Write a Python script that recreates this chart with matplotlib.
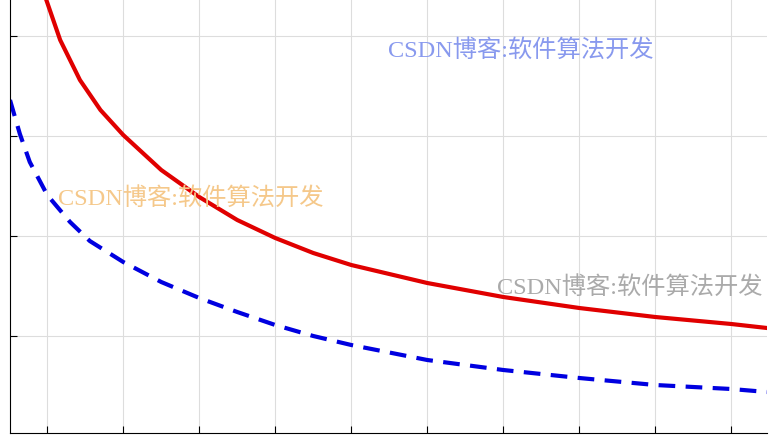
import matplotlib
matplotlib.use("Agg")
import matplotlib.pyplot as plt

x_red = [0.97, 1.17, 1.43, 1.70, 2, 2.5, 3, 3.5, 4, 4.5, 5, 6, 7, 8, 9, 10, 10.47]
y_red = [4.4, 3.96, 3.56, 3.26, 3.01, 2.66, 2.39, 2.16, 1.98, 1.83, 1.71, 1.53, 1.39, 1.28, 1.19, 1.12, 1.08]
x_blue = [0.51, 0.64, 0.77, 1, 1.3, 1.56, 2, 2.5, 3, 3.5, 4, 4.5, 5, 6, 7, 8, 9, 10, 10.47]
y_blue = [3.36, 3.02, 2.74, 2.41, 2.14, 1.95, 1.74, 1.54, 1.38, 1.24, 1.11, 1.0, 0.91, 0.76, 0.66, 0.58, 0.51, 0.47, 0.44]
xticks = list(range(1, 11))
yticks = [1, 2, 3, 4]
wm = "CSDN博客:软件算法开发"

fig = plt.figure(figsize=(7.84, 4.41), dpi=100)
ax = fig.add_axes([10/784, 8/441, 757/784, 433/441])
ax.plot(x_red, y_red, color="#e00000", lw=3)
ax.plot(x_blue, y_blue, color="#0000e0", lw=3, ls=(0, (4, 2.5)))
ax.set_xlim(0.51, 10.47)
ax.set_ylim(0.03, 4.36)
ax.set_xticks(xticks)
ax.set_yticks(yticks)
ax.set_xticklabels([])
ax.set_yticklabels([])
ax.tick_params(direction="in", length=5)
ax.grid(True, color="#dddddd", lw=0.8)
for s in ["top", "right"]:
    ax.spines[s].set_visible(False)
fam = ["Liberation Serif", "Noto Sans CJK SC"]
fig.text(388/784, 1-50/441, wm, color="#8899ee", fontsize=17.5, family=fam, va="center")
fig.text(58/784, 1-198/441, wm, color="#f5c88a", fontsize=17.5, family=fam, va="center")
fig.text(497/784, 1-287/441, wm, color="#aaaaaa", fontsize=17.5, family=fam, va="center")
fig.savefig("out.png", dpi=100)
